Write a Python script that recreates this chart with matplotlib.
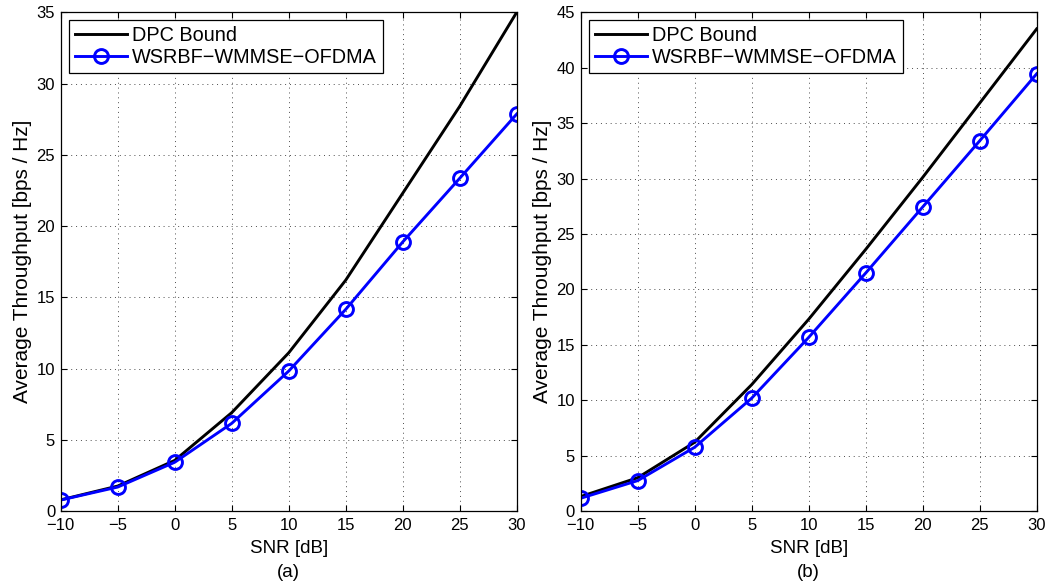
import matplotlib.pyplot as plt
import numpy as np

plt.rcParams["font.family"] = ["Liberation Sans", "DejaVu Sans"]
plt.rcParams["axes.unicode_minus"] = True

snr_db = [-10, -5, 0, 5, 10, 15, 20, 25, 30]

# (a)
dpc_a = [0.78, 1.75, 3.55, 6.9, 11.1, 16.2, 22.3, 28.4, 35.0]
wmmse_a = [0.77, 1.68, 3.42, 6.15, 9.82, 14.15, 18.88, 23.35, 27.86]

# (b)
dpc_b = [1.3, 3.0, 6.2, 11.4, 17.3, 23.6, 30.1, 36.8, 43.5]
wmmse_b = [1.15, 2.74, 5.75, 10.18, 15.66, 21.47, 27.43, 33.4, 39.45]

xticks = [-10, -5, 0, 5, 10, 15, 20, 25, 30]
yticks_a = [0, 5, 10, 15, 20, 25, 30, 35]
yticks_b = [0, 5, 10, 15, 20, 25, 30, 35, 40, 45]

fig = plt.figure(figsize=(10.5, 5.86), dpi=100, facecolor="white")

panels = [
    (0.0578, dpc_a, wmmse_a, yticks_a, "(a)"),
    (0.5530, dpc_b, wmmse_b, yticks_b, "(b)"),
]

for left, dpc, wmmse, yticks, tag in panels:
    ax = fig.add_axes([left, 0.128, 0.4343, 0.851])

    ax.plot(snr_db, dpc, color="black", linewidth=2.1, label="DPC Bound")
    ax.plot(
        snr_db,
        wmmse,
        color="#0000ff",
        linewidth=2.1,
        marker="o",
        markersize=10,
        markerfacecolor="none",
        markeredgewidth=2.1,
        label="WSRBF\u2212WMMSE\u2212OFDMA",
    )

    ax.set_xlim(-10, 30)
    ax.set_ylim(yticks[0], yticks[-1])
    ax.set_xticks(xticks)
    ax.set_yticks(yticks)

    ax.tick_params(
        direction="in",
        top=True,
        right=True,
        length=4,
        width=0.8,
        labelsize=12,
    )
    ax.tick_params(axis="x", pad=5)
    ax.tick_params(axis="y", pad=4)

    ax.grid(True, linestyle=(0, (1, 4)), color="black", linewidth=0.7, alpha=0.7)

    for spine in ax.spines.values():
        spine.set_linewidth(0.9)

    ax.set_xlabel("SNR [dB]", fontsize=13.5, labelpad=5)
    ax.set_ylabel("Average Throughput [bps / Hz]", fontsize=15, labelpad=3)

    ax.text(
        0.5,
        -0.1225,
        tag,
        transform=ax.transAxes,
        ha="center",
        va="center",
        fontsize=13.5,
    )

    legend = ax.legend(
        loc="upper left",
        bbox_to_anchor=(0.0, 1.0),
        fontsize=14.3,
        frameon=True,
        fancybox=False,
        framealpha=1,
        edgecolor="black",
        handlelength=2.65,
        handletextpad=0.25,
        borderpad=0.3,
        labelspacing=0.12,
        borderaxespad=0.4,
    )
    legend.get_frame().set_linewidth(0.9)

fig.savefig("out.png", dpi=100, facecolor=fig.get_facecolor())
